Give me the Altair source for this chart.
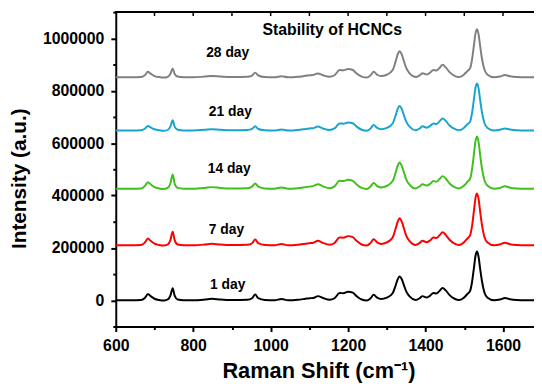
import altair as alt
import pandas as pd

# ---------------- data ----------------
WAVENUMBER = [600, 640, 665, 675, 683, 690, 700, 712, 725, 735,
              741, 747, 752, 760, 775, 800, 830, 848, 870, 900,
              940, 952, 960, 968, 985, 1010, 1028, 1045, 1070, 1090,
              1100, 1110, 1122, 1135, 1152, 1165, 1178, 1188, 1200, 1212,
              1222, 1235, 1248, 1258, 1266, 1275, 1285, 1300, 1315, 1323,
              1328, 1333, 1338, 1344, 1350, 1360, 1374, 1385, 1392, 1403,
              1412, 1420, 1428, 1436, 1444, 1452, 1462, 1475, 1486, 1498,
              1508, 1515, 1520, 1525, 1529, 1533, 1537, 1541, 1546, 1552,
              1560, 1577, 1592, 1605, 1618, 1635, 1660, 1680]

DAY1 = [0, 0, 1000, 9000, 24000, 16000, 6000, 1000, -1000, 4000,
        18000, 46000, 18000, 3000, 0, 0, 3000, 6000, 3000, 1000,
        2000, 8000, 22000, 8000, 1000, 0, 5000, 0, 2000, 6000,
        8000, 9000, 16000, 9000, 2000, 8000, 28000, 27000, 33000, 29000,
        16000, 3000, -1000, 8000, 21000, 10000, 5000, 10000, 27000, 58000,
        80000, 91000, 82000, 58000, 34000, 13000, 1000, 8000, 16000, 11000,
        18000, 28000, 26000, 36000, 47000, 38000, 20000, 6000, 1000, 9000,
        24000, 36000, 70000, 125000, 170000, 186000, 165000, 120000, 70000, 30000,
        10000, 0, 3000, 9000, 4000, 1000, 0, 0]

DAY7 = [0, 0, 1000, 10000, 26000, 17000, 6000, 1000, -1000, 4000,
        20000, 52000, 20000, 3000, 0, 0, 3000, 6000, 3000, 1000,
        2000, 8000, 22000, 8000, 1000, 0, 5000, 0, 2000, 6000,
        8000, 10000, 17000, 9000, 2000, 9000, 30000, 29000, 35000, 31000,
        17000, 3000, -1000, 9000, 23000, 11000, 5000, 11000, 30000, 65000,
        90000, 103000, 92000, 65000, 37000, 14000, 1000, 9000, 17000, 12000,
        19000, 30000, 28000, 38000, 50000, 40000, 21000, 6000, 1000, 10000,
        26000, 38000, 74000, 133000, 181000, 198000, 176000, 128000, 74000, 32000,
        11000, 0, 3000, 10000, 4000, 1000, 0, 0]

DAY14 = [0, 0, 1000, 10000, 25000, 17000, 6000, 1000, -1000, 4000,
         20000, 54000, 20000, 3000, 0, 0, 3000, 6000, 3000, 1000,
         2000, 8000, 20000, 8000, 1000, 0, 5000, 0, 2000, 6000,
         8000, 10000, 17000, 9000, 2000, 9000, 30000, 29000, 34000, 30000,
         16000, 3000, -1000, 9000, 22000, 10000, 5000, 11000, 29000, 63000,
         88000, 100000, 89000, 63000, 36000, 13000, 1000, 9000, 17000, 12000,
         19000, 29000, 27000, 37000, 48000, 39000, 20000, 6000, 1000, 10000,
         26000, 38000, 74000, 134000, 182000, 199000, 177000, 128000, 74000, 32000,
         11000, 0, 3000, 9000, 4000, 1000, 0, 0]

DAY21 = [0, 0, 1000, 7000, 17000, 12000, 5000, 1000, -1000, 3000,
         15000, 39000, 15000, 3000, 0, 0, 3000, 5000, 3000, 1000,
         2000, 6000, 16000, 6000, 1000, 0, 4000, 0, 2000, 6000,
         8000, 9000, 15000, 8000, 2000, 8000, 27000, 26000, 31000, 28000,
         15000, 3000, -1000, 8000, 21000, 10000, 5000, 10000, 27000, 59000,
         83000, 94000, 84000, 59000, 34000, 13000, 1000, 8000, 16000, 11000,
         18000, 27000, 25000, 35000, 46000, 37000, 19000, 6000, 1000, 9000,
         24000, 34000, 67000, 121000, 164000, 180000, 160000, 116000, 67000, 29000,
         10000, 0, 3000, 8000, 4000, 1000, 0, 0]

DAY28 = [0, 0, 1000, 8000, 21000, 14000, 5000, 1000, -1000, 3000,
         13000, 34000, 13000, 3000, 0, 0, 3000, 5000, 3000, 1000,
         2000, 7000, 18000, 7000, 1000, 0, 4000, 0, 2000, 6000,
         8000, 9000, 15000, 8000, 2000, 8000, 28000, 27000, 32000, 28000,
         15000, 3000, -1000, 8000, 21000, 10000, 5000, 10000, 28000, 62000,
         88000, 100000, 89000, 62000, 36000, 13000, 1000, 8000, 16000, 11000,
         18000, 28000, 26000, 36000, 48000, 38000, 20000, 6000, 1000, 9000,
         24000, 35000, 68000, 124000, 168000, 184000, 163000, 119000, 68000, 30000,
         10000, 0, 3000, 9000, 4000, 1000, 0, 0]

SERIES = ["1 day", "7 day", "14 day", "21 day", "28 day"]
OFFSETS = [0, 210000, 426000, 648000, 851000]
COLORS = ["#000000", "#FF0000", "#3FC01A", "#17A5CF", "#808080"]

LABEL_X = [889, 886, 893, 896, 889]
LABEL_Y = [60000, 270000, 500000, 718000, 945000]

TITLE_TEXT = ["Stability of HCNCs"]
TITLE_X = [1159]
TITLE_Y = [1030000]

X_TICKS = list(range(600, 1700, 100))
Y_TICKS = list(range(-100000, 1100001, 100000))
TOP_TICKS = list(range(700, 1700, 100))

# ---------------- build tables ----------------
rows = []
for name, off, vals in zip(SERIES, OFFSETS, [DAY1, DAY7, DAY14, DAY21, DAY28]):
    for w, v in zip(WAVENUMBER, vals):
        rows.append({"series": name, "w": w, "intensity": v + off})
df = pd.DataFrame(rows)

labels_df = pd.DataFrame({"w": LABEL_X, "intensity": LABEL_Y, "text": SERIES})
title_df = pd.DataFrame({"w": TITLE_X, "intensity": TITLE_Y, "text": TITLE_TEXT})
top_df = pd.DataFrame({"w": TOP_TICKS})

FONT = "Liberation Sans"
W, H = 423, 318

x_scale = alt.Scale(domain=[600, 1680], nice=False, zero=False)
y_scale = alt.Scale(domain=[-100000, 1100000], nice=False, zero=False)

x_axis = alt.Axis(
    title="Raman Shift (cm⁻¹)",
    values=X_TICKS,
    format="d",
    labelExpr="datum.value % 200 === 0 ? datum.label : ''",
    tickSize={"condition": {"test": "datum.value % 200 === 0", "value": 5}, "value": 3},
    labelPadding=6,
    labelFlush=False,
    titleX=205,
    titleY=52,
    titleAlign="center",
    titleBaseline="alphabetic",
    grid=False,
)
y_axis = alt.Axis(
    title="Intensity (a.u.)",
    values=Y_TICKS,
    format="d",
    labelExpr="datum.value % 200000 === 0 ? datum.label : ''",
    tickSize={"condition": {"test": "datum.value % 200000 === 0", "value": 5}, "value": 3},
    labelPadding=7,
    labelFlush=False,
    titleX=-91,
    titleY=168,
    titleAngle=270,
    titleAlign="center",
    titleBaseline="alphabetic",
    titleFontSize=21,
    grid=False,
)

X = alt.X("w:Q", scale=x_scale, axis=x_axis)
Y = alt.Y("intensity:Q", scale=y_scale, axis=y_axis)

lines = alt.Chart(df).mark_line(strokeWidth=2, interpolate="monotone").encode(
    x=X,
    y=Y,
    color=alt.Color("series:N", scale=alt.Scale(domain=SERIES, range=COLORS), legend=None),
    order=alt.Order("w:Q"),
)

series_labels = alt.Chart(labels_df).mark_text(
    font=FONT, fontSize=14, fontWeight="bold", color="black", align="center", baseline="middle"
).encode(x=X, y=Y, text="text:N")

title_text = alt.Chart(title_df).mark_text(
    font=FONT, fontSize=16, fontWeight="bold", color="black", align="center", baseline="middle"
).encode(x=X, y=Y, text="text:N")

top_border = alt.Chart(top_df).mark_rule(color="black", strokeWidth=2).encode(
    x=alt.value(0), x2=alt.value(W), y=alt.value(0)
)
top_ticks = alt.Chart(top_df).mark_rule(color="black", strokeWidth=1.5).encode(
    x=X, y=alt.value(0), y2=alt.value(4)
)

chart = alt.layer(lines, series_labels, title_text, top_border, top_ticks).properties(
    width=W,
    height=H,
    autosize=alt.AutoSizeParams(type="none"),
    padding={"left": 109, "top": 2, "right": 0, "bottom": 58},
).configure_view(stroke=None).configure_axis(
    labelFont=FONT,
    labelFontSize=16,
    labelFontWeight="bold",
    labelColor="black",
    titleFont=FONT,
    titleFontSize=22,
    titleFontWeight="bold",
    titleColor="black",
    domainColor="black",
    domainWidth=2,
    tickColor="black",
    tickWidth=2,
)

chart.save("out.html", embed_options={"renderer": "svg", "actions": False})
